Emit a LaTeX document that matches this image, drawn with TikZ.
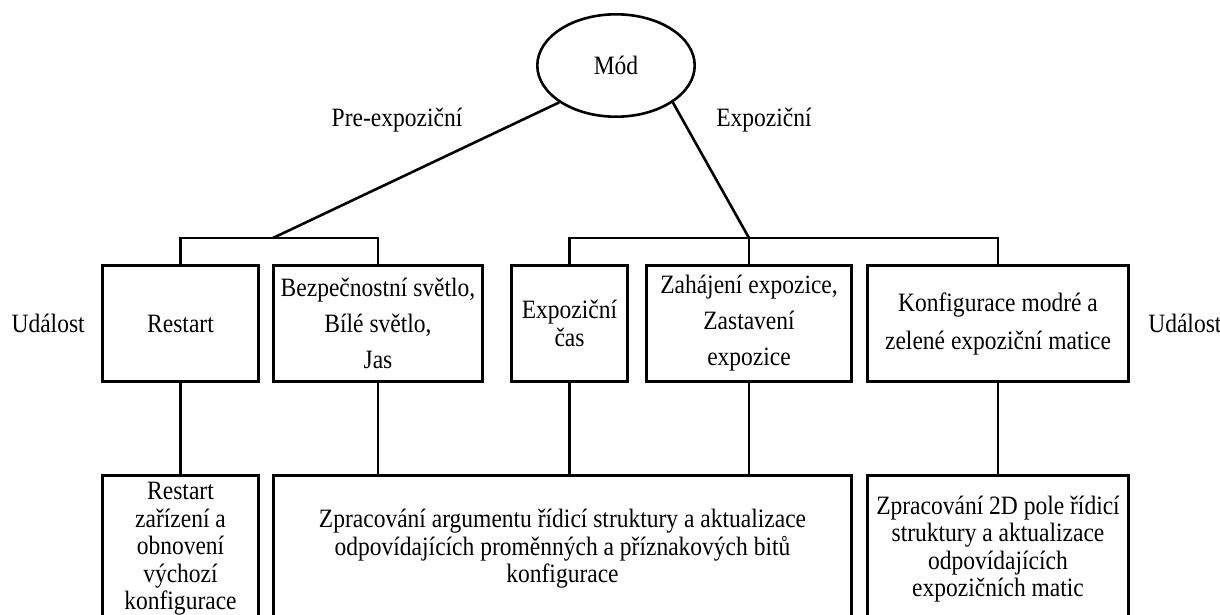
\documentclass[tikz,border=0pt]{standalone}
\usepackage{fontspec}
\setmainfont{Liberation Serif}[FakeStretch=0.887]
\usetikzlibrary{positioning, shapes.geometric}

\begin{document}
\begin{tikzpicture}[x=1pt, y=-1pt, line width=2.6pt,
			every node/.style={inner sep=0pt, font=\fontsize{26.5}{36}\selectfont},
			topbox/.style={draw, rectangle, align=center, minimum height=116.4pt},
			botbox/.style={draw, rectangle, align=center, minimum height=147.4pt, font=\fontsize{26.5}{27.5}\selectfont}]
			% Frame
			\useasboundingbox (0,0) rectangle (1220,614);
			\clip (0,0) rectangle (1220,614);
			% Root
			\node (mode) [ellipse, draw, minimum width=157.4pt, minimum height=102.4pt] at (616,65.5) {Mód};
			% Events
			\node (restart) [topbox, minimum width=156.4pt] at (180.5,323.5) {Restart};
			\node (lights) [topbox, minimum width=209.4pt, right=12pt of restart] {Bezpečnostní světlo,\\ Bílé světlo,\\ Jas};
			\node (exptime) [topbox, minimum width=116.4pt, right=26pt of lights, font=\fontsize{26.5}{27.5}\selectfont] {Expoziční\\ čas};
			\node (expctl) [topbox, minimum width=205.4pt, right=16pt of exptime] {Zahájení expozice,\\ Zastavení\\ expozice};
			\node (matrix) [topbox, minimum width=261.4pt, right=13pt of expctl, font=\fontsize{26.5}{38}\selectfont] {Konfigurace modré a\\ zelené expoziční matice};
			% Handling
			\node (reset) [botbox, minimum width=156.4pt, below=91pt of restart] {Restart\\ zařízení a\\ obnovení\\ výchozí\\ konfigurace};
			\node (args) [botbox, minimum width=578.4pt, right=12pt of reset] {Zpracování argumentu řídicí struktury a aktualizace\\ odpovídajících proměnných a příznakových bitů\\ konfigurace};
			\node (matrixproc) [botbox, minimum width=261.4pt, right=13pt of args] {Zpracování 2D pole řídicí\\ struktury a aktualizace\\ odpovídajících\\ expozičních matic};
			% Labels
			\node (pre) at (397,120) {Pre-expoziční};
			\node (expo) at (764,120) {Expoziční};
			\node (evleft) [left=15pt of restart] {Událost};
			\node (evright) [right=17pt of matrix] {Událost};
			% Brackets
			\coordinate (prejoin) at (273,238);
			\coordinate (expjoin) at (expctl.north |- prejoin);
			\draw (restart.north) |- (prejoin) -| (lights.north);
			\draw (exptime.north) |- (expjoin) -| (matrix.north);
			\draw (expjoin) -- (expctl.north);
			\draw (mode.-147) -- (prejoin);
			\draw (mode.-33) -- (expjoin);
			% Events to handling
			\draw (restart) -- (reset);
			\foreach \src in {lights,exptime,expctl}
			{\draw (\src.south) -- (\src.south |- args.north);}
			\draw (matrix) -- (matrixproc);
		\end{tikzpicture}
\end{document}
